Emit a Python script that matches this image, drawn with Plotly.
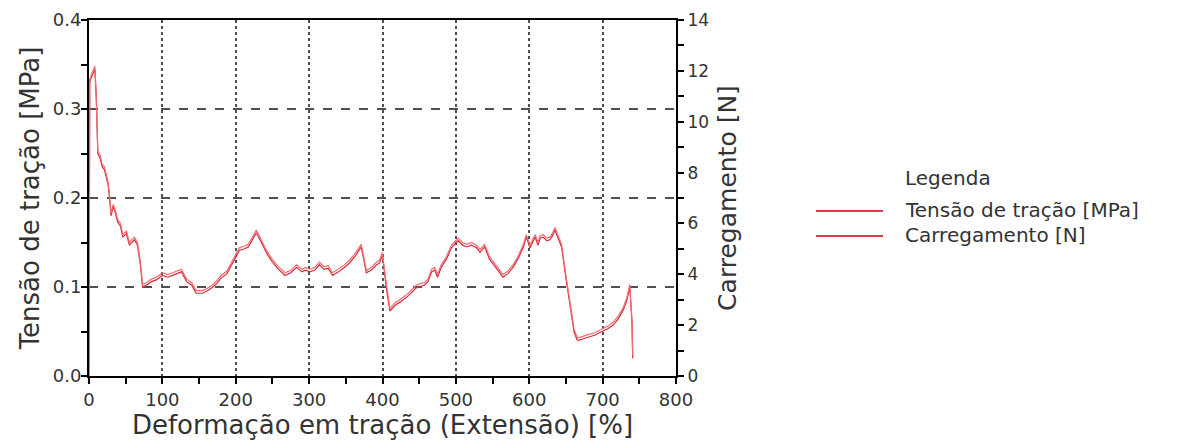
import plotly.graph_objects as go

# Deformação em tração (Extensão) [%]
deformacao = [
    0, 1, 3, 8, 10, 12, 15, 18, 21, 23,
    26, 28, 30, 33, 35, 39, 43, 46, 51, 55,
    59, 62, 66, 70, 73, 78, 85, 92, 100, 107,
    114, 120, 126, 133, 140, 146, 155, 162, 169, 175,
    180, 188, 196, 205, 212, 217, 222, 228, 235, 242,
    250, 258, 267, 275, 283, 290, 295, 301, 308, 314,
    320, 326, 332, 340, 348, 355, 363, 371, 378, 385,
    392, 396, 400, 402, 405, 410, 418, 424, 435, 446,
    452, 457, 462, 467, 471, 475, 480, 487, 494, 499,
    503, 509, 515, 521, 528, 533, 539, 546, 552, 558,
    564, 571, 578, 585, 592, 596, 601, 605, 608, 612,
    615, 619, 624, 628, 632, 635, 638, 644, 650, 656,
    661, 665, 667, 678, 690, 699, 707, 714, 721, 728,
    733, 737, 740, 741,
]

# Tensão de tração [MPa]
tensao = [
    0, 0.33, 0.335, 0.345, 0.31, 0.25, 0.245, 0.235, 0.232, 0.224,
    0.215, 0.20, 0.18, 0.19, 0.186, 0.173, 0.168, 0.156, 0.16, 0.147,
    0.15, 0.153, 0.147, 0.125, 0.10, 0.102, 0.106, 0.108, 0.113, 0.111,
    0.113, 0.115, 0.117, 0.106, 0.102, 0.093, 0.093, 0.096, 0.10, 0.105,
    0.11, 0.115, 0.127, 0.141, 0.143, 0.145, 0.152, 0.161, 0.15, 0.138,
    0.128, 0.12, 0.113, 0.116, 0.122, 0.117, 0.119, 0.117, 0.119, 0.125,
    0.12, 0.121, 0.113, 0.117, 0.122, 0.127, 0.135, 0.145, 0.116, 0.119,
    0.125, 0.127, 0.136, 0.12, 0.10, 0.073, 0.08, 0.083, 0.09, 0.099,
    0.101, 0.102, 0.106, 0.117, 0.119, 0.111, 0.122, 0.131, 0.144, 0.149,
    0.152, 0.147, 0.145, 0.147, 0.144, 0.139, 0.145, 0.131, 0.125, 0.118,
    0.111, 0.115, 0.122, 0.132, 0.145, 0.156, 0.144, 0.152, 0.156, 0.147,
    0.155, 0.156, 0.152, 0.153, 0.158, 0.164, 0.158, 0.145, 0.11, 0.075,
    0.05, 0.041, 0.040, 0.043, 0.046, 0.050, 0.053, 0.057, 0.064, 0.074,
    0.085, 0.10, 0.06, 0.020,
]

# Carregamento [N]
carregamento = [
    0, 11.65, 11.83, 12.18, 10.95, 8.85, 8.68, 8.33, 8.22, 7.94,
    7.63, 7.10, 6.40, 6.75, 6.61, 6.16, 5.98, 5.56, 5.70, 5.25,
    5.35, 5.46, 5.25, 4.48, 3.60, 3.67, 3.81, 3.88, 4.06, 3.99,
    4.06, 4.13, 4.20, 3.81, 3.67, 3.36, 3.36, 3.46, 3.60, 3.78,
    3.95, 4.13, 4.55, 5.04, 5.11, 5.18, 5.42, 5.74, 5.35, 4.93,
    4.58, 4.30, 4.06, 4.16, 4.37, 4.20, 4.27, 4.20, 4.27, 4.48,
    4.30, 4.34, 4.06, 4.20, 4.37, 4.55, 4.83, 5.18, 4.16, 4.27,
    4.48, 4.55, 4.86, 4.30, 3.60, 2.66, 2.90, 3.01, 3.25, 3.57,
    3.64, 3.67, 3.81, 4.20, 4.27, 3.99, 4.37, 4.69, 5.14, 5.32,
    5.42, 5.25, 5.18, 5.25, 5.14, 4.97, 5.18, 4.69, 4.48, 4.23,
    3.99, 4.13, 4.37, 4.72, 5.18, 5.56, 5.14, 5.42, 5.56, 5.25,
    5.53, 5.56, 5.42, 5.46, 5.63, 5.84, 5.63, 5.18, 3.95, 2.73,
    1.85, 1.54, 1.50, 1.61, 1.71, 1.85, 1.96, 2.10, 2.34, 2.69,
    3.08, 3.60, 2.20, 0.80,
]

x_ticks = [0, 100, 200, 300, 400, 500, 600, 700, 800]
y_ticks = [0.0, 0.1, 0.2, 0.3, 0.4]
y2_ticks = [0, 2, 4, 6, 8, 10, 12, 14]

legend_title = "Legenda"
series_names = ["Tensão de tração [MPa]", "Carregamento [N]"]
series_colors = ["rgb(212,45,55)", "rgb(240,105,115)"]

AXIS_FONT = "DejaVu Sans, Verdana, sans-serif"
LEG_FONT = "DejaVu Sans, Arial, sans-serif"
TXT = "#333333"

# plot area in pixels
W, H = 1181, 448
L, R, T, B = 89, 505, 20, 72
PW, PH = W - L - R, H - T - B


def px(xp):
    return (xp - L) / PW


def py(yp):
    return (H - B - yp) / PH


fig = go.Figure()
fig.add_trace(go.Scatter(
    x=deformacao, y=tensao, mode="lines", name=series_names[0],
    line=dict(color=series_colors[0], width=1.2), yaxis="y", showlegend=False,
))
fig.add_trace(go.Scatter(
    x=deformacao, y=carregamento, mode="lines", name=series_names[1],
    line=dict(color=series_colors[1], width=1.2), yaxis="y2", showlegend=False,
))

tick_common = dict(ticks="outside", ticklen=6, tickwidth=2, tickcolor="black")

fig.update_layout(
    width=W, height=H,
    margin=dict(l=L, r=R, t=T, b=B),
    paper_bgcolor="white", plot_bgcolor="white",
    font=dict(family=AXIS_FONT, color=TXT, size=18),
    showlegend=False,
    xaxis=dict(
        range=[0, 800], tickvals=x_ticks, ticktext=[str(v) for v in x_ticks],
        showline=True, linecolor="black", linewidth=2, mirror=True, layer="below traces",
        minor=dict(dtick=50, ticks="outside", ticklen=6, tickwidth=2, tickcolor="black", showgrid=False),
        showgrid=True, gridcolor="#505050", gridwidth=1.5, griddash="dot",
        zeroline=False, automargin=False,
        title=dict(text="Deformação em tração (Extensão) [%]", font=dict(size=26), standoff=3),
        tickfont=dict(size=18),
        **tick_common,
    ),
    yaxis=dict(
        range=[0, 0.4], tickvals=y_ticks, ticktext=["%.1f" % v for v in y_ticks],
        showline=True, linecolor="black", linewidth=2, layer="below traces",
        minor=dict(dtick=0.05, ticks="outside", ticklen=6, tickwidth=2, tickcolor="black", showgrid=False),
        showgrid=True, gridcolor="#505050", gridwidth=1.5, griddash="dash",
        zeroline=False, automargin=False, ticklabelstandoff=-4,
        title=dict(text="Tensão de tração [MPa]", font=dict(size=26), standoff=6),
        tickfont=dict(size=18),
        **tick_common,
    ),
    yaxis2=dict(
        range=[0, 14], tickvals=y2_ticks, ticktext=[str(v) for v in y2_ticks],
        overlaying="y", side="right",
        showline=True, linecolor="black", linewidth=2,
        minor=dict(dtick=1, ticks="outside", ticklen=6, tickwidth=2, tickcolor="black", showgrid=False),
        showgrid=False, zeroline=False, automargin=False,
        title=dict(text="Carregamento [N]", font=dict(size=25), standoff=10),
        tickfont=dict(size=17),
        **tick_common,
    ),
    # inside ticks to give the crossing tick look
    xaxis2=dict(
        range=[0, 800], overlaying="x", side="bottom", anchor="y",
        dtick=50, ticks="inside", ticklen=5, tickwidth=2, tickcolor="black",
        showticklabels=False, showgrid=False, showline=False, zeroline=False,
    ),
    yaxis3=dict(
        range=[0, 0.4], overlaying="y", side="left", anchor="x",
        dtick=0.05, ticks="inside", ticklen=5, tickwidth=2, tickcolor="black",
        showticklabels=False, showgrid=False, showline=False, zeroline=False,
    ),
    yaxis4=dict(
        range=[0, 14], overlaying="y", side="right", anchor="x",
        dtick=1, ticks="inside", ticklen=5, tickwidth=2, tickcolor="black",
        showticklabels=False, showgrid=False, showline=False, zeroline=False,
    ),
)

# legend drawn by hand to match the reference layout
shapes = []
annotations = [dict(
    text=legend_title, x=px(903), y=py(178), xref="paper", yref="paper",
    xanchor="left", yanchor="middle", showarrow=False,
    font=dict(family=LEG_FONT, size=20, color=TXT),
)]
leg_rows = [210, 235]
for name, color, row in zip(series_names, series_colors, leg_rows):
    shapes.append(dict(
        type="line", xref="paper", yref="paper",
        x0=px(816), x1=px(883), y0=py(row + 1), y1=py(row + 1),
        line=dict(color="rgb(222,60,70)", width=2),
    ))
    annotations.append(dict(
        text=name, x=px(903), y=py(row), xref="paper", yref="paper",
        xanchor="left", yanchor="middle", showarrow=False,
        font=dict(family=LEG_FONT, size=20, color=TXT),
    ))
fig.update_layout(shapes=shapes, annotations=annotations)

fig.write_html(
    "out.html",
    config={"displayModeBar": False},
    post_script="document.body.style.margin='0px';document.body.style.overflow='hidden';",
)
